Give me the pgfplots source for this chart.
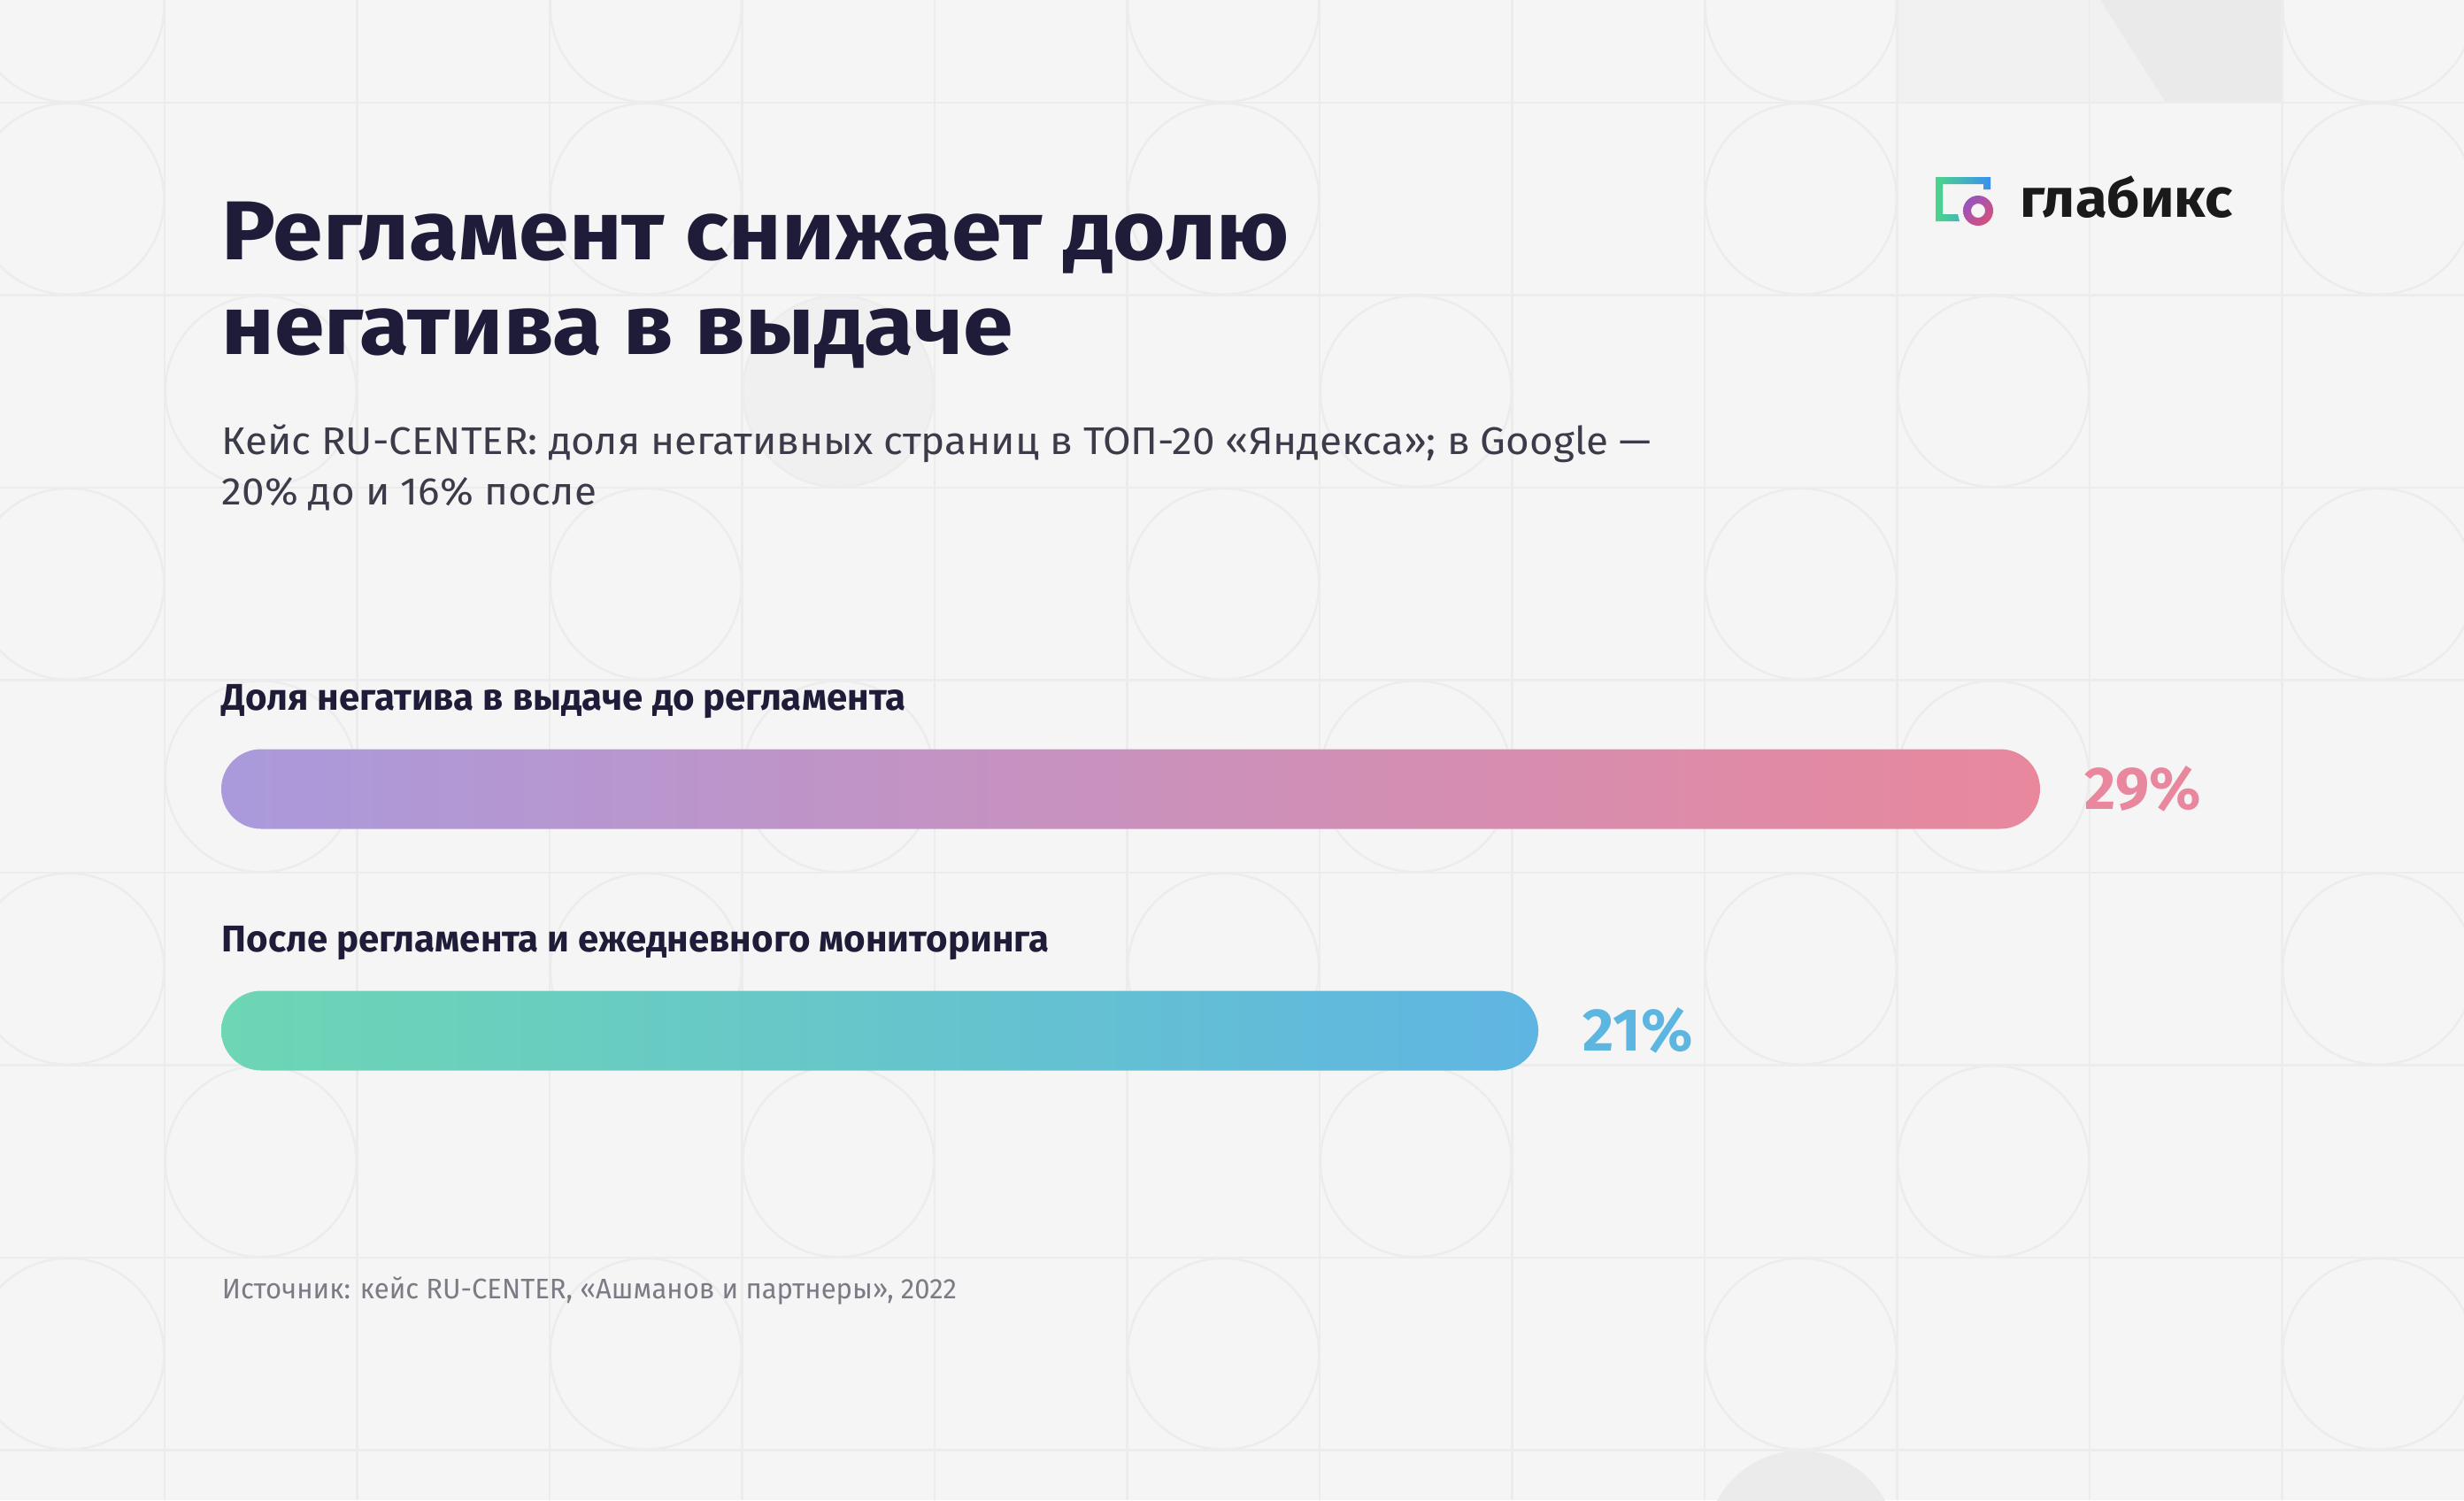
\documentclass[border=0pt]{standalone}
\usepackage{pgfplots}
\pgfplotsset{compat=1.18}
\usetikzlibrary{shadings}
\usepackage{fontspec}
\setmainfont{Fira Sans}
\newfontfamily\titlefont{Fira Sans}[FakeStretch=1.08]
\newfontfamily\subfont{Fira Sans}[FakeStretch=1.05]
\newfontfamily\srcfont{Fira Sans}[FakeStretch=0.97]
\newfontfamily\logofont{Fira Sans}[FakeStretch=1.06]
\definecolor{bg}{HTML}{F5F5F5}
\definecolor{pat}{HTML}{ECECEC}
\definecolor{blkA}{HTML}{F1F1F1}
\definecolor{blkB}{HTML}{EAEAEA}
\definecolor{circA}{HTML}{F0F0F0}
\definecolor{circB}{HTML}{EBEBEB}
\definecolor{titlec}{HTML}{1E1C38}
\definecolor{subc}{HTML}{3B3B4A}
\definecolor{srcc}{HTML}{7B7B85}
\definecolor{logoc}{HTML}{1A1A1A}
\definecolor{pinkc}{HTML}{E8879E}
\definecolor{bluec}{HTML}{5DB6E0}
\definecolor{bAleft}{HTML}{AA9ADC}
\definecolor{bAright}{HTML}{E9889D}
\definecolor{bBleft}{HTML}{6DD6B4}
\definecolor{bBright}{HTML}{5FB5E2}
\definecolor{lgGreen}{HTML}{4CD58A}
\definecolor{lgBlue}{HTML}{3A8FF0}
\definecolor{lgPurple}{HTML}{8A55C8}
\definecolor{lgPink}{HTML}{E2506A}
\definecolor{lgMid}{HTML}{B652A0}
\begin{document}
\begin{tikzpicture}
% ---------- background (image pixel coordinates, 1px = 0.25pt, y down) ----------
\begin{scope}[x=0.25pt,y=-0.25pt]
\fill[bg] (0,0) rectangle (2784,1695);
\clip (0,0) rectangle (2784,1695);
\fill[blkA] (2143,0) rectangle (2578,116);
\fill[blkB] (2373,0) -- (2578,0) -- (2578,116) -- (2447,116) -- cycle;
\fill[circA] (947,442) circle (108);
\fill[circB] (2035,1747) circle (108);
\foreach \m in {0,...,7} \draw[pat,line width=0.6pt] (0,{116+217.5*\m}) -- (2784,{116+217.5*\m});
\foreach \k in {0,...,11} \draw[pat,line width=0.6pt] ({186+217.5*\k},0) -- ({186+217.5*\k},1695);
\foreach \m in {0,1,3,5,7} \foreach \k in {0,3,6,9,12} \draw[pat,line width=0.6pt] ({77.25+217.5*\k},{7.25+217.5*\m}) circle (108);
\foreach \m in {2,4,6} \foreach \k in {1,4,7,10} \draw[pat,line width=0.6pt] ({77.25+217.5*\k},{7.25+217.5*\m}) circle (108);
\end{scope}
% ---------- texts ----------
\begin{scope}[x=0.25pt,y=-0.25pt]
\node[anchor=base west,inner sep=0,text=titlec,font=\titlefont\fontsize{23.6}{26}\selectfont\bfseries] at (250,293) {Регламент снижает долю};
\node[anchor=base west,inner sep=0,text=titlec,font=\titlefont\fontsize{23.6}{26}\selectfont\bfseries] at (250,400) {негатива в выдаче};
\node[anchor=base west,inner sep=0,text=subc,font=\subfont\fontsize{10.9}{13}\selectfont] at (250,513) {Кейс RU-CENTER: доля негативных страниц в ТОП-20 «Яндекса»; в Google —};
\node[anchor=base west,inner sep=0,text=subc,font=\subfont\fontsize{10.9}{13}\selectfont] at (250,570) {20\% до и 16\% после};
\node[anchor=base west,inner sep=0,text=titlec,font=\fontsize{10.5}{12}\selectfont\bfseries] at (250,802) {Доля негатива в выдаче до регламента};
\node[anchor=base west,inner sep=0,text=titlec,font=\fontsize{10.5}{12}\selectfont\bfseries] at (250,1075) {После регламента и ежедневного мониторинга};
\node[anchor=base west,inner sep=0,text=srcc,font=\srcfont\fontsize{8}{10}\selectfont] at (250,1467) {Источник: кейс RU-CENTER, «Ашманов и партнеры», 2022};
% logo
\shade[left color=lgGreen,right color=lgBlue] (2187,200) -- (2249,200) -- (2249,214) -- (2241,214) -- (2241,208) -- (2195,208) -- (2195,242) -- (2212,242) -- (2214,250) -- (2187,250) -- cycle;
\shade[upper left=lgPurple,lower right=lgPink,upper right=lgMid,lower left=lgMid,even odd rule] (2235,238) circle (17) (2235,238) circle (8);
\node[anchor=base west,inner sep=0,text=logoc,font=\logofont\fontsize{15.4}{17}\selectfont\bfseries] at (2282,245) {глабикс};
\end{scope}
% ---------- chart ----------
\begin{axis}[
  at={(62.5pt,-325.25pt)}, anchor=south west,
  scale only axis, width=513.75pt, height=136.5pt,
  xmin=0, xmax=29, ymin=-0.5, ymax=1.5,
  hide axis, xbar, bar width=22.5pt, bar shift=0pt,
  point meta=x,
  /pgf/number format/assume math mode=true,
  nodes near coords={\pgfmathprintnumber{\pgfplotspointmeta}\%},
  every node near coord/.append style={anchor=west, inner sep=0pt, xshift=12.5pt, font=\fontsize{17}{19}\selectfont\bfseries},
  clip=false,
]
\addplot[draw=none, rounded corners=11.25pt, left color=bAleft, right color=bAright,
  every node near coord/.append style={text=pinkc}] coordinates {(29,1)};
\addplot[draw=none, rounded corners=11.25pt, left color=bBleft, right color=bBright,
  every node near coord/.append style={text=bluec}] coordinates {(21,0)};
\end{axis}
\pgfresetboundingbox
\useasboundingbox (0,0) rectangle (696pt,-423.75pt);
\end{tikzpicture}
\end{document}
